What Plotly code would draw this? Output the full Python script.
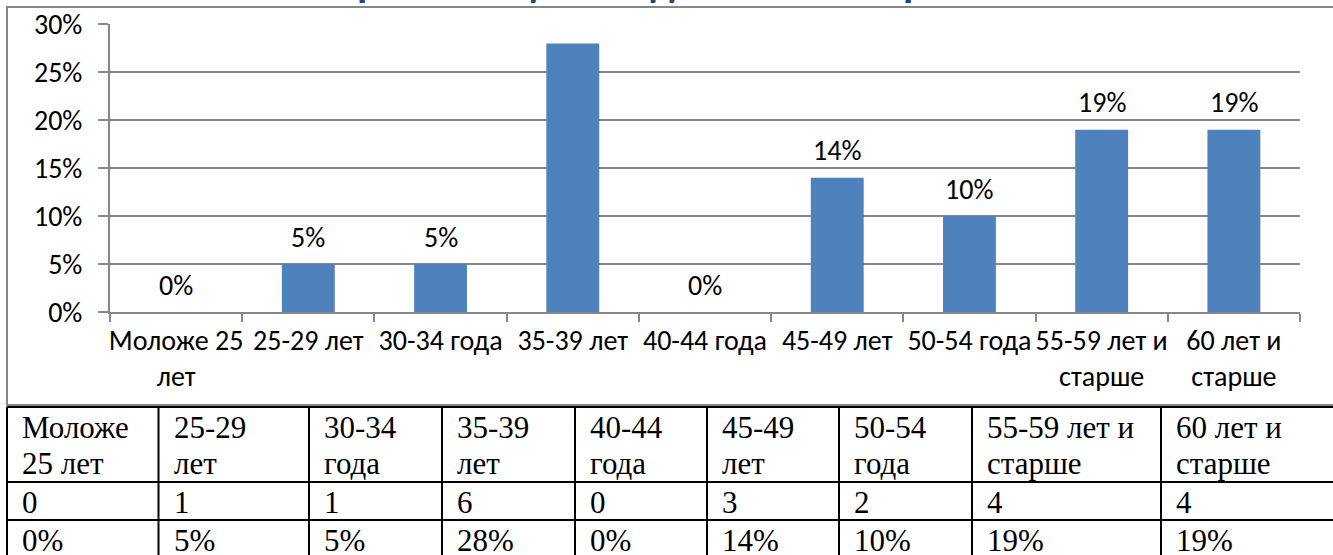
import plotly.graph_objects as go

# ---- data ----
categories = ["Моложе 25 лет", "25-29 лет", "30-34 года", "35-39 лет", "40-44 года",
              "45-49 лет", "50-54 года", "55-59 лет и старше", "60 лет и старше"]
axis_ticktext = ["Моложе 25<br>лет", "25-29 лет", "30-34 года", "35-39 лет", "40-44 года",
                 "45-49 лет", "50-54 года", "55-59 лет и<br>старше", "60 лет и<br>старше"]
table_header = ["Моложе<br>25 лет", "25-29<br>лет", "30-34<br>года", "35-39<br>лет", "40-44<br>года",
                "45-49<br>лет", "50-54<br>года", "55-59 лет и<br>старше", "60 лет и<br>старше"]
counts = [0, 1, 1, 6, 0, 3, 2, 4, 4]
shares = [0.00, 0.05, 0.05, 0.28, 0.00, 0.14, 0.10, 0.19, 0.19]
label_shown = [True, True, True, False, True, True, True, True, True]
title_text = "Возрастной ценз педагогических работников"

# ---- layout constants (pixels) ----
W, H = 1333, 555
BAR = "#4F81BD"
GRID = "#878787"
SANS = "Carlito, Calibri, Lato, sans-serif"
SERIF = "Liberation Serif, Times New Roman, serif"
TICK_SIZE = 28
TABLE_SIZE = 31
TABLE_LEFT, TABLE_TOP = 7, 407
col_widths = [151.5, 150.5, 133, 133, 132, 132, 133, 189, 180]
row_heights = [75, 38, 38]
PAD = 13


def px(x):
    return x / W


def py(y):
    return 1 - y / H


fig = go.Figure()
fig.add_trace(go.Bar(x=categories, y=shares, marker=dict(color=BAR, line=dict(width=0)),
                     hoverinfo="skip", showlegend=False))

annotations = []
# data labels above bars
for c, v, s in zip(categories, shares, label_shown):
    if s:
        annotations.append(dict(x=c, y=v, xref="x", yref="y", text=f"{round(v*100)}%",
                                showarrow=False, yanchor="middle", yshift=27,
                                font=dict(family=SANS, size=TICK_SIZE, color="#000")))

# ---- table below the chart (lines + text from the data arrays) ----
shapes = []
col_edges = [TABLE_LEFT]
for w in col_widths:
    col_edges.append(col_edges[-1] + w)
row_edges = [TABLE_TOP]
for h in row_heights:
    row_edges.append(row_edges[-1] + h)

for yy in row_edges:
    shapes.append(dict(type="line", xref="paper", yref="paper",
                       x0=px(col_edges[0]), x1=px(col_edges[-1]), y0=py(yy), y1=py(yy),
                       line=dict(color="black", width=2)))
for xx in col_edges:
    shapes.append(dict(type="line", xref="paper", yref="paper",
                       x0=px(xx), x1=px(xx), y0=py(row_edges[0]), y1=py(row_edges[-1]),
                       line=dict(color="black", width=2)))

rows = [table_header, [str(n) for n in counts], [f"{round(p*100)}%" for p in shares]]
for r, row in enumerate(rows):
    top = row_edges[r]
    for ci, txt in enumerate(row):
        lines = txt.split("<br>")
        for li, line in enumerate(lines):
            center = top + 20 + li * 36
            annotations.append(dict(text=line, xref="paper", yref="paper",
                                    x=px(col_edges[ci] + PAD), y=py(center),
                                    xanchor="left", yanchor="middle", showarrow=False,
                                    font=dict(family=SERIF, size=TABLE_SIZE, color="black")))

# chart outer border
shapes.append(dict(type="rect", xref="paper", yref="paper",
                   x0=px(7), x1=px(1345), y0=py(405), y1=py(7),
                   line=dict(color=GRID, width=2), fillcolor="rgba(0,0,0,0)", layer="below"))

# clipped title at the very top
annotations.append(dict(text=title_text, xref="paper", yref="paper", x=px(705), y=1,
                        xanchor="center", yanchor="bottom", yshift=-9, showarrow=False,
                        font=dict(family=SANS, size=42, color="#1F497D", weight="bold")))

fig.update_layout(
    width=W, height=H, margin=dict(l=0, r=0, t=0, b=0, autoexpand=False),
    paper_bgcolor="white", plot_bgcolor="white",
    bargap=0.6,
    xaxis=dict(domain=[px(110), px(1300)], type="category", automargin=False,
               tickmode="array", tickvals=categories, ticktext=axis_ticktext,
               tickangle=0,
               showline=True, linecolor=GRID, linewidth=2,
               ticks="outside", tickson="boundaries", ticklen=8, tickcolor=GRID, tickwidth=2,
               ticklabelstandoff=2,
               showgrid=False, tickfont=dict(family=SANS, size=TICK_SIZE, color="#000"),
               fixedrange=True),
    yaxis=dict(domain=[py(312), py(24.3)], range=[0, 0.30], dtick=0.05, automargin=False,
               tickformat=".0%", showline=True, linecolor=GRID, linewidth=2,
               ticks="outside", ticklen=10, tickcolor=GRID, tickwidth=2,
               ticklabelstandoff=10,
               showgrid=True, gridcolor=GRID, gridwidth=2, zeroline=False,
               tickfont=dict(family=SANS, size=TICK_SIZE, color="#000"), fixedrange=True),
    shapes=shapes,
    annotations=annotations,
)

fig.write_html("out.html", config={"displayModeBar": False},
               post_script="document.body.style.margin='0';document.body.style.overflow='hidden';")
